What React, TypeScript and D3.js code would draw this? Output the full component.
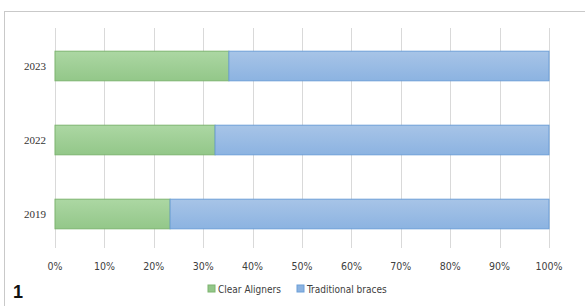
import React from "react";
import * as d3 from "d3";

const years = ["2023", "2022", "2019"];
const clearAligners = [35.2, 32.4, 23.3];
const traditionalBraces = [64.8, 67.6, 76.7];
const xTicks = [0, 10, 20, 30, 40, 50, 60, 70, 80, 90, 100];
const seriesNames = ["Clear Aligners", "Traditional braces"];

export default function App() {
  const width = 585,
    height = 306;
  const margin = { top: 29, left: 55, right: 36, bottom: 55 };

  const x = d3
    .scaleLinear()
    .domain([0, 100])
    .range([margin.left, width - margin.right]);

  const y = d3
    .scaleBand()
    .domain(years)
    .range([margin.top, height - margin.bottom])
    .paddingInner(0.6)
    .paddingOuter(0.3);

  const fmt = (d: number) => d + "%";

  return (
    <svg
      width={width}
      height={height}
      style={{ position: "absolute", left: 0, top: 0, background: "#fff" }}
    >
      <defs>
        <linearGradient id="gGreen" x1="0" y1="0" x2="0" y2="1">
          <stop offset="0" stopColor="#acd7a3" />
          <stop offset="1" stopColor="#93c789" />
        </linearGradient>
        <linearGradient id="gBlue" x1="0" y1="0" x2="0" y2="1">
          <stop offset="0" stopColor="#a7c4e7" />
          <stop offset="1" stopColor="#8cb3e1" />
        </linearGradient>
      </defs>

      {/* outer frame */}
      <rect x={4.5} y={11.5} width={620} height={320} fill="none" stroke="#c9c9c9" />

      {/* grid */}
      {xTicks.map((t) => (
        <line
          key={t}
          x1={Math.round(x(t)) + 0.5}
          x2={Math.round(x(t)) + 0.5}
          y1={28}
          y2={248}
          stroke="#d9d9d9"
        />
      ))}

      {/* bars */}
      {years.map((yr, i) => {
        const y0 = y(yr)!;
        const bh = y.bandwidth();
        return (
          <g key={yr}>
            <rect
              x={x(0)}
              y={y0}
              width={x(clearAligners[i]) - x(0)}
              height={bh}
              fill="url(#gGreen)"
              stroke="#7db46f"
              strokeWidth={1}
            />
            <rect
              x={x(clearAligners[i])}
              y={y0}
              width={x(clearAligners[i] + traditionalBraces[i]) - x(clearAligners[i])}
              height={bh}
              fill="url(#gBlue)"
              stroke="#6d9fd8"
              strokeWidth={1}
            />
            <text
              x={46}
              y={y0 + bh / 2}
              dy="0.35em"
              textAnchor="end"
              fontFamily="Liberation Serif, serif"
              fontSize={11}
              fill="#333"
            >
              {yr}
            </text>
          </g>
        );
      })}

      {/* x tick labels */}
      {xTicks.map((t) => (
        <text
          key={t}
          x={x(t)}
          y={266}
          dy="0.35em"
          textAnchor="middle"
          fontFamily="DejaVu Sans Condensed, DejaVu Sans, sans-serif"
          fontSize={10.5}
          fill="#404040"
        >
          {fmt(t)}
        </text>
      ))}

      {/* legend */}
      <g fontFamily="DejaVu Sans Condensed, DejaVu Sans, sans-serif" fontSize={10} fill="#404040">
        <rect x={208} y={285} width={7} height={7} fill="#93c789" stroke="#7db46f" />
        <text x={218} y={289} dy="0.35em">
          {seriesNames[0]}
        </text>
        <rect x={297} y={285} width={7} height={7} fill="#8cb3e1" stroke="#6d9fd8" />
        <text x={307} y={289} dy="0.35em">
          {seriesNames[1]}
        </text>
      </g>

      <text x={13} y={298} fontFamily="Liberation Sans, Arial, sans-serif" fontWeight="bold" fontSize={18} fill="#111">
        1
      </text>
    </svg>
  );
}
